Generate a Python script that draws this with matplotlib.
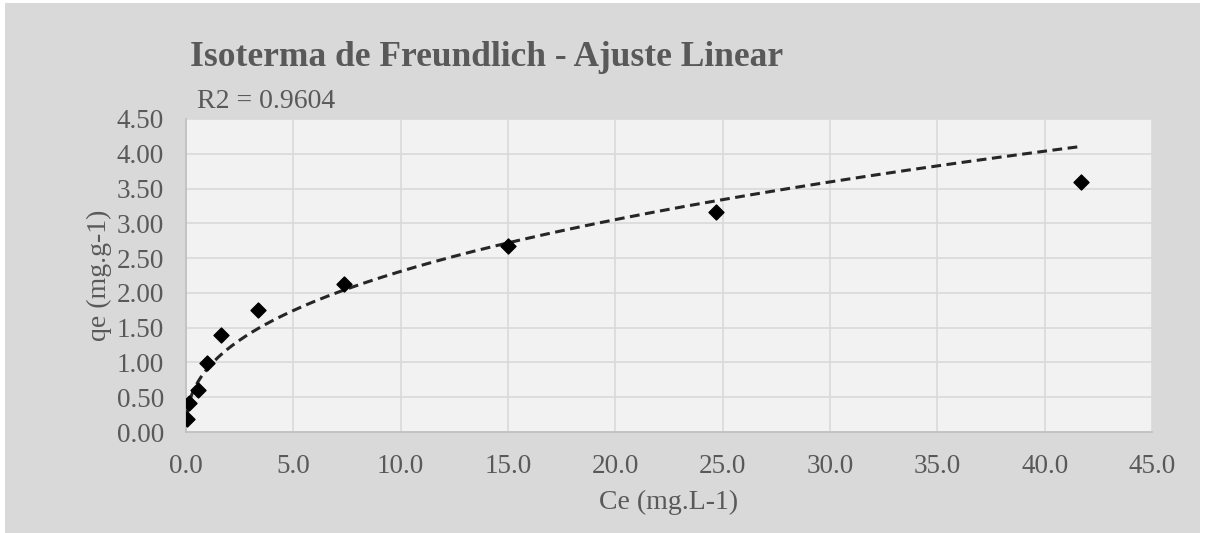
import matplotlib.pyplot as plt
import numpy as np
from matplotlib.patches import Rectangle

# data
ce = [0.05, 0.12, 0.55, 1.0, 1.65, 3.35, 7.35, 15.0, 24.7, 41.7]
qe = [0.19, 0.42, 0.61, 0.99, 1.39, 1.76, 2.13, 2.67, 3.16, 3.60]

# Freundlich trend line parameters (qe = K * Ce^(1/n))
K = 0.913
inv_n = 0.403
r2_text = 'R2 = 0.9604'

xticks = np.arange(0, 45.1, 5)
yticks = np.arange(0, 4.51, 0.5)

grey = '#595959'
font = 'Liberation Serif'

fig = plt.figure(figsize=(12.06, 5.33), dpi=100)
fig.patch.set_facecolor('white')
fig.patches.append(Rectangle((5 / 1206, 0), 1195 / 1206, 530 / 533,
                             transform=fig.transFigure, facecolor='#d9d9d9',
                             edgecolor='none', zorder=-10))

ax = fig.add_axes([186 / 1206, 1 - 432 / 533, 966 / 1206, 313 / 533])
ax.set_facecolor('#f2f2f2')

# trend line over data range
xs = np.linspace(min(ce), max(ce), 400)
ax.plot(xs, K * xs ** inv_n, color='#262626', lw=2.2, ls=(0, (3.2, 1.8)), zorder=3)
ax.scatter(ce, qe, marker='D', s=58, color='black', zorder=4)

ax.set_xlim(0, 45)
ax.set_ylim(0, 4.5)
ax.set_xticks(xticks)
ax.set_yticks(yticks)
ax.set_xticklabels(['%.1f' % v for v in xticks])
ax.set_yticklabels(['%.2f' % v for v in yticks])
ax.grid(True, color='#d9d9d9', lw=1.2)
ax.set_axisbelow(True)
for s in ['top', 'right']:
    ax.spines[s].set_visible(False)
for s in ['left', 'bottom']:
    ax.spines[s].set_color('#bfbfbf')
    ax.spines[s].set_linewidth(1.2)
ax.tick_params(length=0, labelsize=19.5, labelcolor=grey)
ax.tick_params(axis='y', pad=16)
ax.tick_params(axis='x', pad=16)
for lab in ax.get_xticklabels() + ax.get_yticklabels():
    lab.set_family(font)

ax.set_xlabel('Ce (mg.L-1)', fontsize=20, color=grey, family=font, labelpad=8)
ax.set_ylabel('qe (mg.g-1)', fontsize=20, color=grey, family=font, labelpad=3)

fig.text(190 / 1206, 1 - 58 / 533, 'Isoterma de Freundlich - Ajuste Linear',
         fontsize=25.5, fontweight='bold', color=grey, family=font, va='center')
fig.text(197 / 1206, 1 - 101 / 533, r2_text, fontsize=20, color=grey,
         family=font, va='center')

fig.savefig('out.png', dpi=100)
